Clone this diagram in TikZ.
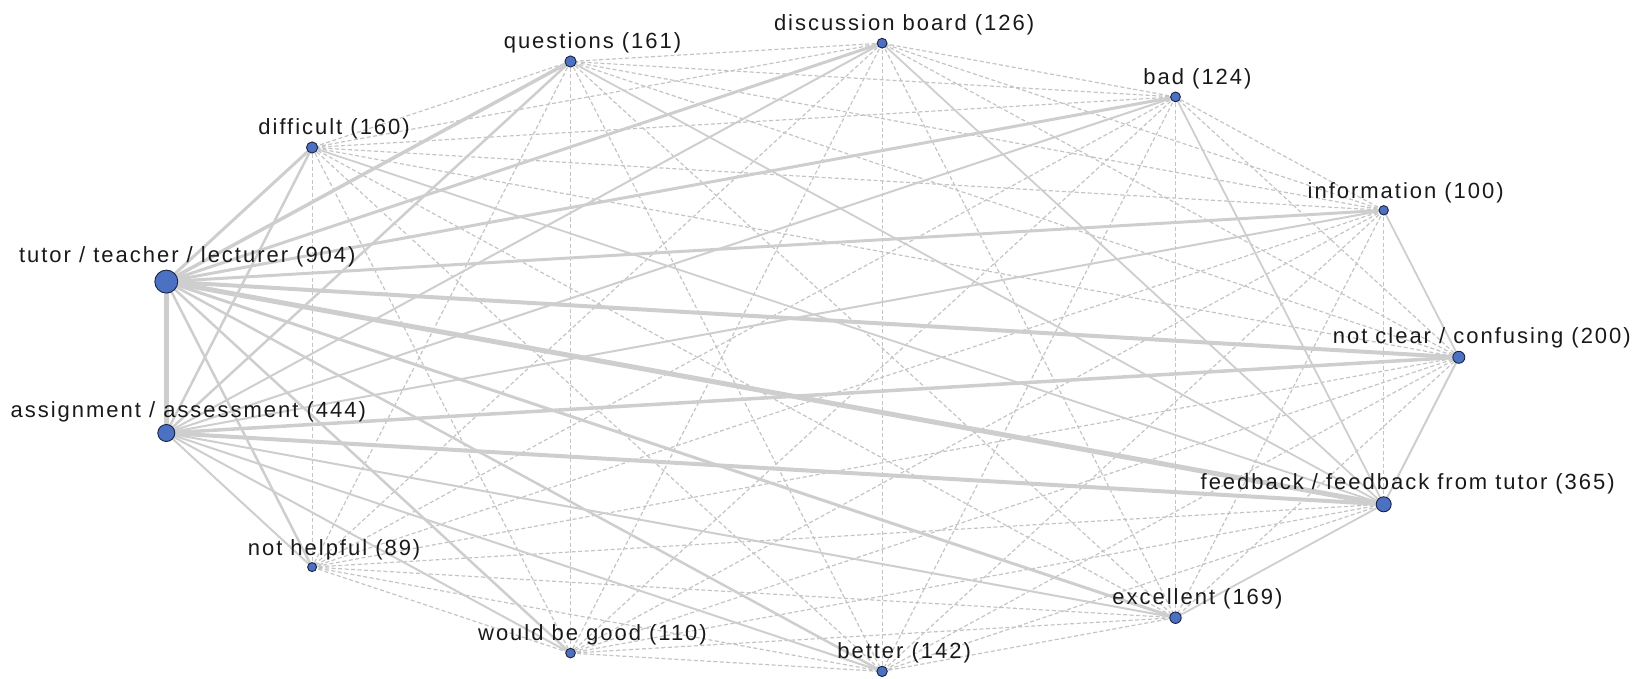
\documentclass[tikz,border=0pt]{standalone}
\usepackage{fontspec}
\setmainfont{Liberation Sans}[LetterSpace=9]
\usetikzlibrary{backgrounds}
\definecolor{nodefill}{RGB}{76,112,194}
\definecolor{nodeline}{RGB}{25,35,65}
\definecolor{edgec}{RGB}{206,206,206}
\definecolor{dashc}{RGB}{196,196,196}
\definecolor{txt}{RGB}{25,25,25}
\begin{document}
\begin{tikzpicture}[x=1pt,y=-1pt,
  vtx/.style={circle,draw=nodeline,fill=nodefill,line width=0.9pt,inner sep=0pt,minimum size=#1},
  lab/.style={anchor=base,inner sep=0pt,text=txt,font=\fontsize{22}{26}\selectfont},
  dedge/.style={draw=dashc,line width=1.2pt,dash pattern=on 4pt off 2.5pt},
  sedge/.style={draw=edgec,line width=#1},
]
\path[use as bounding box] (0,0) rectangle (1648,679);
% vertices
\node[vtx=12pt]   (NC)  at (1458.8,357.3) {};
\node[vtx=9.4pt]  (INF) at (1383.7,210.3) {};
\node[vtx=9.8pt]  (BAD) at (1175.5,96.9) {};
\node[vtx=9.8pt]  (DB)  at (882.1,43.2) {};
\node[vtx=11.2pt] (Q)   at (570.5,61.5) {};
\node[vtx=11.2pt] (DIF) at (312.1,147.5) {};
\node[vtx=23pt]   (T)   at (166.3,281.6) {};
\node[vtx=17pt]   (A)   at (166.3,433.0) {};
\node[vtx=9pt]    (NH)  at (312.1,567.1) {};
\node[vtx=9.6pt]  (WBG) at (570.5,653.1) {};
\node[vtx=10.4pt] (BET) at (882.1,671.4) {};
\node[vtx=11.4pt] (EXC) at (1175.5,617.7) {};
\node[vtx=15pt]   (FB)  at (1383.7,504.3) {};
% labels
\node[lab] (lNC)  at ([xshift=23pt,yshift=7pt]NC.north)  {not clear / confusing (200)};
\node[lab] (lINF) at ([xshift=22pt,yshift=7pt]INF.north) {information (100)};
\node[lab] (lBAD) at ([xshift=22pt,yshift=7pt]BAD.north) {bad (124)};
\node[lab] (lDB)  at ([xshift=22pt,yshift=7pt]DB.north)  {discussion board (126)};
\node[lab] (lQ)   at ([xshift=22pt,yshift=7pt]Q.north)   {questions (161)};
\node[lab] (lDIF) at ([xshift=22pt,yshift=7pt]DIF.north) {difficult (160)};
\node[lab] (lT)   at ([xshift=21pt,yshift=7pt]T.north)   {tutor / teacher / lecturer (904)};
\node[lab] (lA)   at ([xshift=22pt,yshift=7pt]A.north)   {assignment / assessment (444)};
\node[lab] (lNH)  at ([xshift=22pt,yshift=7pt]NH.north)  {not helpful (89)};
\node[lab] (lWBG) at ([xshift=22pt,yshift=7pt]WBG.north) {would be good (110)};
\node[lab] (lBET) at ([xshift=22pt,yshift=7pt]BET.north) {better (142)};
\node[lab] (lEXC) at ([xshift=22pt,yshift=7pt]EXC.north) {excellent (169)};
\node[lab] (lFB)  at ([xshift=24pt,yshift=7pt]FB.north)  {feedback / feedback from tutor (365)};
% edges
\begin{scope}[on background layer]
\foreach \a/\b in {NC/BAD,NC/DB,NC/Q,NC/DIF,NC/NH,NC/WBG,NC/BET,NC/EXC,
  INF/BAD,INF/DB,INF/Q,INF/DIF,INF/NH,INF/WBG,INF/BET,INF/EXC,INF/FB,
  BAD/DB,BAD/Q,BAD/DIF,BAD/NH,BAD/WBG,BAD/BET,BAD/EXC,
  DB/Q,DB/DIF,DB/NH,DB/WBG,DB/BET,DB/EXC,
  Q/DIF,Q/NH,Q/WBG,Q/BET,Q/EXC,
  DIF/NH,DIF/WBG,DIF/BET,DIF/EXC,
  NH/WBG,NH/BET,NH/EXC,NH/FB,
  WBG/BET,WBG/EXC,WBG/FB,
  BET/EXC,BET/FB}
  \draw[dedge] (\a.center) -- (\b.center);
\foreach \a/\b/\w in {T/A/5.5,T/FB/5,T/NC/4,T/INF/3,T/BAD/3,T/DB/3,T/Q/3.5,T/DIF/3,
  T/EXC/3,T/BET/2.5,T/WBG/2.5,T/NH/2.5,
  A/FB/4,A/NC/3.5,A/DIF/2.5,A/Q/2.5,A/DB/2,A/BAD/2,A/INF/2,A/EXC/2,A/BET/2,A/WBG/2,A/NH/2,
  FB/NC/2,FB/DIF/1.8,FB/Q/1.8,FB/DB/1.8,FB/BAD/1.8,FB/EXC/1.8,NC/INF/1.8}
  \draw[sedge=\w pt] (\a.center) -- (\b.center);
\end{scope}
\end{tikzpicture}
\end{document}
